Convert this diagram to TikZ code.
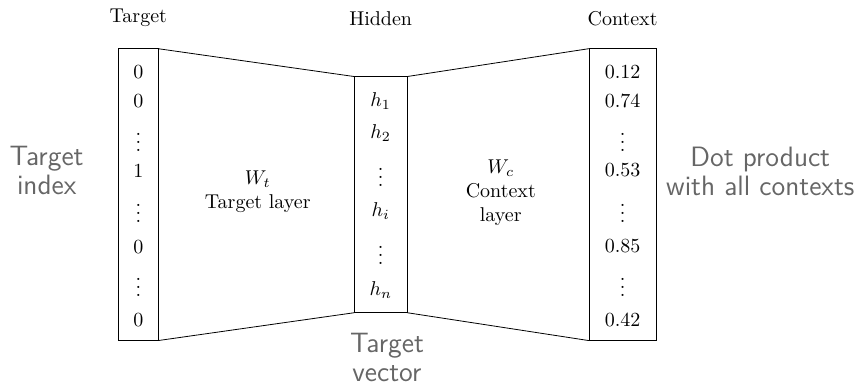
\documentclass[tikz,border=0pt]{standalone}
\usepackage{tikz}
\newcommand{\linkLayers}[2]
{
	\draw (#1.north east) -- (#2.north west);
	\draw (#1.south east) -- (#2.south west)
}

\begin{document}
\begin{tikzpicture}[
			vec/.style={shape=rectangle,
				draw=black,
				inner sep=0, outer sep=0,
			minimum height=5.13cm},
			entry/.style={inner sep=1pt},
			note/.style={align=center, text=black!60,
			font=\sffamily\fontsize{14}{14.5}\selectfont}]

			\useasboundingbox (-2.09, -0.81) rectangle (13.11, 5.99);

			\node[vec, minimum width=0.69cm] at (0.34, 2.57) (T){};
			\node[vec, minimum width=0.93cm, minimum height=4.15cm] at (4.60, 2.57) (H){};
			\node[vec, minimum width=1.18cm] at (8.85, 2.57) (C){};

			\node at (0.34, 5.67) (tT){Target};
			\node at (4.60, 5.67) (tH){Hidden};
			\node at (8.85, 5.67) (tC){Context};

			\foreach \v/\y [count=\i] in {0/4.73, 0/4.22, \vdots/3.60, 1/2.99, \vdots/2.34, 0/1.65, \vdots/1.04, 0/0.37}
				\node[entry] at (0.34, \y) (t\i){$\v$};
			\foreach \v/\y [count=\i] in {h_1/4.22, h_2/3.66, \vdots/2.97, h_i/2.28, \vdots/1.60, h_n/0.90}
				\node[entry] at (4.60, \y) (h\i){$\v$};
			\foreach \v/\y [count=\i] in {0.12/4.73, 0.74/4.22, \vdots/3.60, 0.53/3.01, \vdots/2.34, 0.85/1.67, \vdots/1.04, 0.42/0.37}
				\node[entry] at (8.85, \y) (c\i){$\v$};

			\node[align=center] at (2.44, 2.62) (Wt){$W_t$\\Target layer};
			\node[align=center] at (6.71, 2.60) (Wc){$W_c$\\Context\\layer};

			\node[note] at (-1.27, 2.99) (idx){Target\\index};
			\node[note] at (11.27, 2.97) (dot){Dot product\\with all contexts};
			\node[note] at (4.71, -0.30) (tv){Target\\vector};

			\linkLayers{T}{H};
			\linkLayers{H}{C};
		\end{tikzpicture}
\end{document}
